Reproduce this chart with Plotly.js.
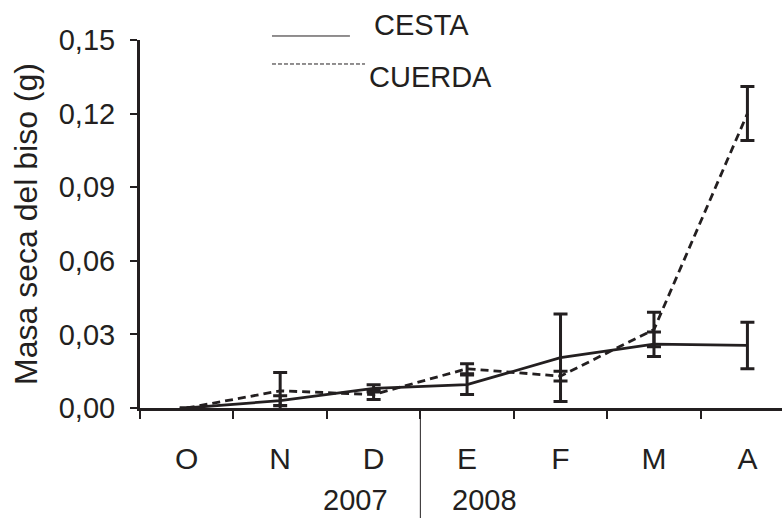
<!DOCTYPE html>
<html>
<head>
<meta charset="utf-8">
<script src="https://cdn.plot.ly/plotly-3.0.1.min.js"></script>
<style>html,body{margin:0;padding:0;background:#fff;}#chart{width:782px;height:518px;}</style>
</head>
<body>
<div id="chart"></div>
<script>
// Data
var months = ["O", "N", "D", "E", "F", "M", "A"];
var cesta = [0, 0.003, 0.008, 0.0095, 0.0205, 0.026, 0.0255];
var cestaErr = [0, 0.002, 0.0015, 0.004, 0.0178, 0.005, 0.0095];
var cuerda = [0, 0.007, 0.0055, 0.016, 0.013, 0.032, 0.12];
var cuerdaErr = [0, 0.0075, 0.002, 0.002, 0.002, 0.007, 0.011];
var yTicks = [0, 0.03, 0.06, 0.09, 0.12, 0.15];
var years = ["2007", "2008"];

var ink = "#231f20";
var font = "Liberation Sans, Arial, sans-serif";

var traces = [
  {
    x: months, y: cuerda, name: "CUERDA", type: "scatter", mode: "lines",
    line: {color: ink, width: 2.8, dash: "8px,5px"},
    error_y: {type: "data", array: cuerdaErr, visible: true, color: ink, thickness: 3, width: 7}
  },
  {
    x: months, y: cesta, name: "CESTA", type: "scatter", mode: "lines",
    line: {color: ink, width: 2.8},
    error_y: {type: "data", array: cestaErr, visible: true, color: ink, thickness: 3, width: 7}
  }
];

var layout = {
  width: 782, height: 518,
  margin: {l: 140, r: 0, t: 40, b: 110},
  paper_bgcolor: "#fff", plot_bgcolor: "#fff",
  showlegend: false,
  separators: ",.",
  font: {family: font, size: 29, color: ink},
  xaxis: {
    type: "category",
    range: [-0.5, 6.37],
    tickson: "boundaries",
    ticks: "outside", ticklen: 8, tickwidth: 2, tickcolor: ink,
    ticklabelstandoff: 22,
    showline: true, linewidth: 3, linecolor: ink,
    showgrid: false, zeroline: false,
    tickfont: {family: font, size: 30, color: ink}
  },
  yaxis: {
    range: [0, 0.15],
    tickvals: yTicks,
    tickformat: ".2f",
    ticks: "outside", ticklen: 7, tickwidth: 2, tickcolor: ink,
    ticklabelstandoff: 9,
    showline: true, linewidth: 3, linecolor: ink,
    showgrid: false, zeroline: false,
    tickfont: {family: font, size: 29, color: ink},
    title: {text: "Masa seca del biso (g)", font: {family: font, size: 32, color: ink}, standoff: 12}
  },
  shapes: [
    {type: "line", xref: "x", yref: "paper", x0: 2.5, x1: 2.5, y0: 0, y1: -0.3, line: {color: ink, width: 1}},
    {type: "line", xref: "paper", yref: "paper", x0: 0.2056, x1: 0.327, y0: 1.0109, y1: 1.0109, line: {color: ink, width: 1}},
    {type: "line", xref: "paper", yref: "paper", x0: 0.2056, x1: 0.3505, y0: 0.9348, y1: 0.9348, line: {color: ink, width: 1, dash: "4px,2px"}}
  ],
  annotations: [
    {xref: "paper", yref: "paper", x: 0.362, y: 1.0408, xanchor: "left", yanchor: "middle", text: "CESTA", showarrow: false, font: {family: font, size: 29, color: ink}},
    {xref: "paper", yref: "paper", x: 0.354, y: 0.899, xanchor: "left", yanchor: "middle", text: "CUERDA", showarrow: false, font: {family: font, size: 29, color: ink}},
    {xref: "x", yref: "paper", x: 2.18, y: -0.25, xanchor: "right", yanchor: "middle", text: years[0], showarrow: false, font: {family: font, size: 29, color: ink}},
    {xref: "x", yref: "paper", x: 2.82, y: -0.25, xanchor: "left", yanchor: "middle", text: years[1], showarrow: false, font: {family: font, size: 29, color: ink}}
  ]
};

Plotly.newPlot("chart", traces, layout, {staticPlot: true, displayModeBar: false});
</script>
</body>
</html>
